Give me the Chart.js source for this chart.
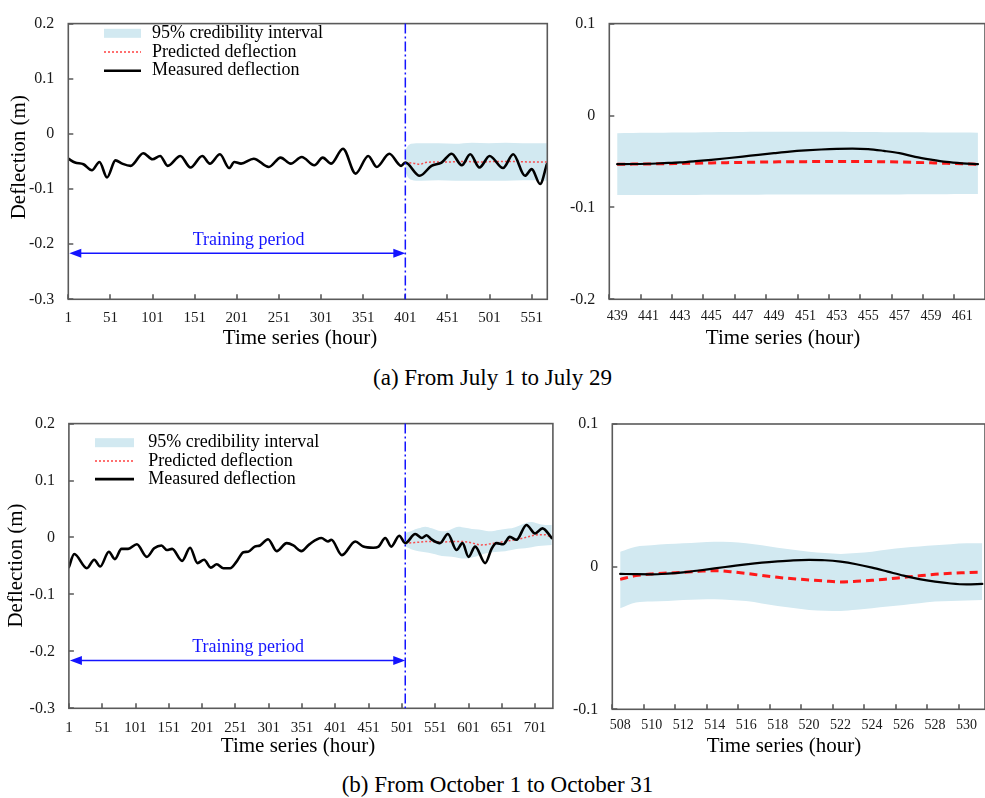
<!DOCTYPE html>
<html lang="en">
<head>
<meta charset="UTF-8">
<title>Deflection prediction</title>
<script src="https://cdn.jsdelivr.net/npm/chart.js"></script>
<style>
    body { margin: 0; background: #fff; width: 985px; height: 798px; position: relative; overflow: hidden;
           font-family: 'Liberation Serif', 'Times New Roman', serif; }
    canvas { position: absolute; }
    .caption { position: absolute; width: 985px; text-align: center; font-size: 23px; line-height: 26px; color: #000; white-space: nowrap; }
</style>
<script>
    // (a) July: whole record, measured deflection (hour, m)
    const julyHours = [1, 9, 19, 29, 38, 47, 57, 65, 75, 90, 101, 110, 119, 134, 146, 160, 169, 181, 192, 198,
        206, 221, 239, 253, 265, 278, 293, 303, 313, 327, 342, 357, 367, 382, 396, 401, 418, 432, 444, 456,
        468, 478, 489, 501, 517, 529, 543, 551, 561, 569];
    const julyMeasured = [-0.045, -0.052, -0.055, -0.066, -0.051, -0.079, -0.048, -0.054, -0.058, -0.035,
        -0.046, -0.040, -0.058, -0.040, -0.061, -0.040, -0.054, -0.037, -0.062, -0.051,
        -0.054, -0.045, -0.060, -0.043, -0.054, -0.042, -0.057, -0.043, -0.054, -0.027,
        -0.072, -0.040, -0.060, -0.036, -0.058, -0.052, -0.076, -0.058, -0.052, -0.036,
        -0.057, -0.037, -0.061, -0.040, -0.062, -0.037, -0.076, -0.064, -0.091, -0.055];
    const julyPredHours = [401, 410, 418, 425, 435, 450, 470, 490, 510, 530, 550, 569];
    const julyPredicted = [-0.052, -0.053, -0.055, -0.052, -0.051, -0.051, -0.050, -0.051, -0.050, -0.050, -0.051, -0.051];
    const julyBandHours = [401, 404, 408, 420, 440, 460, 480, 500, 520, 540, 560, 569];
    const julyUpper = [-0.030, -0.022, -0.018, -0.017, -0.017, -0.018, -0.016, -0.017, -0.016, -0.017, -0.017, -0.017];
    const julyLower = [-0.068, -0.078, -0.083, -0.085, -0.084, -0.085, -0.085, -0.085, -0.085, -0.084, -0.084, -0.085];

    // (a) July: close-up of hours 439-462
    const julyZoomHours = [439, 440, 441, 442, 443, 444, 445, 446, 447, 448, 449, 450,
        451, 452, 453, 454, 455, 456, 457, 458, 459, 460, 461, 462];
    const julyZoomMeasured = [-0.053, -0.0528, -0.0525, -0.0518, -0.051, -0.0497, -0.0482, -0.0465, -0.0447, -0.0428, -0.041, -0.0393,
        -0.038, -0.037, -0.0363, -0.036, -0.0365, -0.0385, -0.041, -0.045, -0.048, -0.0505, -0.052, -0.053];
    const julyZoomPredicted = [-0.053, -0.0529, -0.0527, -0.0525, -0.0522, -0.0519, -0.0516, -0.0513, -0.051, -0.0507, -0.0505, -0.0503,
        -0.0502, -0.0501, -0.050, -0.050, -0.0501, -0.0503, -0.0506, -0.051, -0.0515, -0.052, -0.0525, -0.053];
    const julyZoomUpper = [-0.0192, -0.019, -0.0189, -0.0188, -0.0186, -0.0184, -0.0182, -0.018, -0.0179, -0.0178, -0.0177, -0.0177,
        -0.0177, -0.0177, -0.0178, -0.0179, -0.018, -0.0181, -0.0182, -0.0183, -0.0184, -0.0185, -0.0186, -0.0187];
    const julyZoomLower = [-0.0865, -0.0866, -0.0866, -0.0866, -0.0865, -0.0864, -0.0863, -0.0862, -0.0862, -0.0861, -0.086, -0.086,
        -0.086, -0.086, -0.086, -0.086, -0.086, -0.086, -0.0859, -0.0858, -0.0857, -0.0856, -0.0855, -0.0855];

    // (b) October: whole record
    const octHours = [1, 9, 28, 39, 48, 61, 70, 80, 90, 103, 118, 129, 140, 148, 156, 171, 183, 194, 204, 214,
        223, 233, 243, 253, 263, 270, 280, 288, 300, 313, 328, 338, 350, 362, 380, 390, 395, 411, 431, 443,
        458, 466, 476, 485, 497, 506, 521, 531, 538, 545, 558, 570, 583, 592, 601, 611, 626, 636, 643, 653,
        663, 673, 688, 701, 712, 726];
    const octMeasured = [-0.052, -0.029, -0.054, -0.039, -0.051, -0.025, -0.038, -0.020, -0.020, -0.012,
        -0.034, -0.019, -0.014, -0.022, -0.020, -0.041, -0.018, -0.045, -0.039, -0.053,
        -0.047, -0.054, -0.054, -0.042, -0.026, -0.025, -0.016, -0.014, -0.003, -0.024,
        -0.010, -0.014, -0.024, -0.012, -0.001, -0.007, -0.004, -0.031, -0.007, -0.016,
        -0.018, -0.016, -0.001, -0.016, 0.003, -0.010, 0.006, -0.001, 0.004, -0.003,
        -0.010, 0.006, -0.022, -0.010, -0.034, -0.016, -0.045, -0.019, -0.010, -0.012,
        0.001, -0.004, 0.022, 0.007, 0.016, -0.001];
    const octPredHours = [506, 520, 540, 560, 580, 600, 620, 640, 660, 680, 700, 715, 726];
    const octPredicted = [-0.010, -0.009, -0.007, -0.008, -0.007, -0.008, -0.013, -0.010, -0.006, -0.002, 0.004, 0.005, 0.000];
    const octBandHours = [506, 516, 526, 536, 546, 556, 566, 576, 586, 596, 606, 616, 626, 636, 646, 656,
        666, 676, 686, 696, 706, 716, 726];
    const octUpper = [0.008, 0.012, 0.016, 0.019, 0.016, 0.012, 0.011, 0.015, 0.019, 0.017, 0.015, 0.014,
        0.012, 0.011, 0.013, 0.015, 0.016, 0.020, 0.025, 0.027, 0.024, 0.022, 0.022];
    const octLower = [-0.016, -0.021, -0.024, -0.026, -0.028, -0.031, -0.033, -0.034, -0.036, -0.037, -0.035, -0.032,
        -0.028, -0.026, -0.025, -0.024, -0.022, -0.020, -0.019, -0.017, -0.015, -0.014, -0.013];

    // (b) October: close-up of hours 508-531
    const octZoomHours = [508, 509, 510, 511, 512, 513, 514, 515, 516, 517, 518, 519,
        520, 521, 522, 523, 524, 525, 526, 527, 528, 529, 530, 531];
    const octZoomMeasured = [-0.0051, -0.0053, -0.0054, -0.0049, -0.004, -0.0027, -0.0012, 0.0002, 0.0016, 0.0028, 0.0037, 0.0044,
        0.0047, 0.0045, 0.0035, 0.0017, -0.0007, -0.0035, -0.0063, -0.0087, -0.0105, -0.0118, -0.0124, -0.0121];
    const octZoomPredicted = [-0.0089, -0.0063, -0.0051, -0.0045, -0.004, -0.0033, -0.0028, -0.0035, -0.0047, -0.0062, -0.0075, -0.0085,
        -0.0093, -0.0101, -0.0107, -0.0103, -0.0096, -0.0086, -0.0075, -0.0064, -0.0054, -0.0047, -0.0042, -0.0037];
    const octZoomUpper = [0.0105, 0.014, 0.015, 0.0158, 0.0164, 0.017, 0.0175, 0.0172, 0.0164, 0.015, 0.0133, 0.0118,
        0.0105, 0.0095, 0.0089, 0.0095, 0.0105, 0.012, 0.0133, 0.0142, 0.015, 0.0157, 0.0164, 0.0164];
    const octZoomLower = [-0.0292, -0.0252, -0.0245, -0.024, -0.0234, -0.0231, -0.0229, -0.0234, -0.0241, -0.0258, -0.0276, -0.029,
        -0.0304, -0.0309, -0.0311, -0.0303, -0.0292, -0.028, -0.0269, -0.0257, -0.0245, -0.024, -0.0238, -0.0234];

    // tick labels
    const julyXTicks = [1, 51, 101, 151, 201, 251, 301, 351, 401, 451, 501, 551];
    const octXTicks = [1, 51, 101, 151, 201, 251, 301, 351, 401, 451, 501, 551, 601, 651, 701];
    const julyZoomXTicks = [439, 441, 443, 445, 447, 449, 451, 453, 455, 457, 459, 461];
    const octZoomXTicks = [508, 510, 512, 514, 516, 518, 520, 522, 524, 526, 528, 530];
    const fullYTicks = [-0.3, -0.2, -0.1, 0, 0.1, 0.2];
    const julyZoomYTicks = [-0.2, -0.1, 0, 0.1];
    const octZoomYTicks = [-0.1, 0, 0.1];

    const BAND = '#d2e9f1';
    const SERIF = '"Liberation Serif", "Times New Roman", serif';

    function zip(xs, ys) {
        return xs.map((x, i) => ({ x: x, y: ys[i] }));
    }

    function line(ctx, x1, y1, x2, y2) {
        ctx.beginPath();
        ctx.moveTo(x1, y1);
        ctx.lineTo(x2, y2);
        ctx.stroke();
    }

    // frame, inward ticks, legend, training-period marker and axis titles
    const decor = {
        id: 'decor',
        afterDraw(chart, args, o) {
            const { ctx, chartArea: a, scales: { x, y } } = chart;
            ctx.save();
            ctx.strokeStyle = '#5a5a5a';
            ctx.lineWidth = 1.6;
            ctx.strokeRect(a.left, a.top, a.right - a.left, a.bottom - a.top);
            ctx.beginPath();
            x.ticks.forEach(t => {
                const px = Math.round(x.getPixelForValue(t.value + o.markShift));
                ctx.moveTo(px, a.bottom);
                ctx.lineTo(px, a.bottom - 5);
            });
            y.ticks.forEach(t => {
                const py = Math.round(y.getPixelForValue(t.value));
                ctx.moveTo(a.left, py);
                ctx.lineTo(a.left + 5, py);
            });
            ctx.stroke();

            if (o.split) {
                const sx = x.getPixelForValue(o.split);
                ctx.strokeStyle = '#1414ff';
                ctx.fillStyle = '#1414ff';
                ctx.lineWidth = 1.5;
                ctx.setLineDash([10, 3, 2, 3]);
                line(ctx, sx, a.top, sx, a.bottom);
                ctx.setLineDash([]);
                const ay = y.getPixelForValue(o.arrowY);
                const ax = x.getPixelForValue(x.min) + 1;
                line(ctx, ax + 6, ay, sx - 6, ay);
                ctx.beginPath();
                ctx.moveTo(ax, ay); ctx.lineTo(ax + 12, ay - 4.5); ctx.lineTo(ax + 12, ay + 4.5);
                ctx.closePath();
                ctx.moveTo(sx, ay); ctx.lineTo(sx - 12, ay - 4.5); ctx.lineTo(sx - 12, ay + 4.5);
                ctx.closePath();
                ctx.fill();
                ctx.font = '18px ' + SERIF;
                ctx.textAlign = 'center';
                ctx.textBaseline = 'middle';
                ctx.fillText('Training period', x.getPixelForValue(o.labelX), y.getPixelForValue(o.labelY));
            }

            if (o.legend) {
                const L = o.legend;
                ctx.font = '18px ' + SERIF;
                ctx.textAlign = 'left';
                ctx.textBaseline = 'middle';
                ctx.fillStyle = BAND;
                ctx.fillRect(L.x, L.y - 4.5, L.w, 9);
                ctx.strokeStyle = '#ff4040';
                ctx.lineWidth = 1.5;
                ctx.setLineDash([2, 2]);
                line(ctx, L.x, L.y + L.gap, L.x + L.w, L.y + L.gap);
                ctx.setLineDash([]);
                ctx.strokeStyle = '#000';
                ctx.lineWidth = 2.6;
                line(ctx, L.x, L.y + 2 * L.gap, L.x + L.w, L.y + 2 * L.gap);
                ctx.fillStyle = '#000';
                ['95% credibility interval', 'Predicted deflection', 'Measured deflection'].forEach((s, i) => {
                    ctx.fillText(s, L.textX, L.y + i * L.gap);
                });
            }

            ctx.fillStyle = '#000';
            ctx.font = '21px ' + SERIF;
            ctx.textAlign = 'center';
            ctx.textBaseline = 'middle';
            ctx.fillText('Time series (hour)', o.xTitle[0], o.xTitle[1]);
            if (o.yTitle) {
                ctx.translate(o.yTitle[0], o.yTitle[1]);
                ctx.rotate(-Math.PI / 2);
                ctx.fillText('Deflection (m)', 0, 0);
            }
            ctx.restore();
        }
    };

    function makeChart(id, c) {
        return new Chart(document.getElementById(id), {
            type: 'line',
            data: {
                datasets: [{
                    label: 'Measured deflection',
                    data: zip(c.hours, c.measured),
                    borderColor: '#000',
                    borderWidth: c.measWidth,
                    cubicInterpolationMode: 'monotone',
                    borderJoinStyle: 'round',
                    borderCapStyle: 'round'
                }, {
                    label: 'Predicted deflection',
                    data: zip(c.predHours, c.predicted),
                    borderColor: c.predColor,
                    borderWidth: c.predWidth,
                    borderDash: c.predDash,
                    cubicInterpolationMode: 'monotone'
                }, {
                    label: '95% credibility interval',
                    data: zip(c.bandHours, c.upper),
                    borderColor: 'transparent',
                    borderWidth: 0,
                    cubicInterpolationMode: 'monotone'
                }, {
                    label: 'lower bound',
                    data: zip(c.bandHours, c.lower),
                    borderColor: 'transparent',
                    borderWidth: 0,
                    backgroundColor: BAND,
                    fill: '-1',
                    cubicInterpolationMode: 'monotone'
                }]
            },
            options: {
                responsive: false,
                animation: false,
                events: [],
                elements: { point: { radius: 0 } },
                layout: { padding: c.padding },
                scales: {
                    x: {
                        type: 'linear',
                        min: c.xMin,
                        max: c.xMax,
                        grid: { display: false, drawTicks: false },
                        border: { display: false },
                        afterBuildTicks: s => { s.ticks = c.xTicks.map(v => ({ value: v })); },
                        afterFit: s => { s.height = c.xHeight; },
                        ticks: {
                            callback: v => String(v),
                            font: { family: SERIF, size: c.xFont },
                            color: '#1a1a1a',
                            padding: c.xPad,
                            maxRotation: 0,
                            autoSkip: false
                        }
                    },
                    y: {
                        min: c.yMin,
                        max: c.yMax,
                        grid: { display: false, drawTicks: false },
                        border: { display: false },
                        afterBuildTicks: s => { s.ticks = c.yTicks.map(v => ({ value: v })); },
                        afterFit: s => { s.width = c.yWidth; },
                        ticks: {
                            callback: v => String(v),
                            font: { family: SERIF, size: 16 },
                            color: '#1a1a1a',
                            padding: 14
                        }
                    }
                },
                plugins: {
                    legend: { display: false },
                    tooltip: { enabled: false },
                    decor: c.decor
                }
            },
            plugins: [decor]
        });
    }

    document.addEventListener('DOMContentLoaded', function () {
        makeChart('julyFull', {
            hours: julyHours, measured: julyMeasured,
            predHours: julyPredHours, predicted: julyPredicted,
            bandHours: julyBandHours, upper: julyUpper, lower: julyLower,
            measWidth: 2.6, predColor: 'rgba(255, 50, 50, 0.85)', predWidth: 1.5, predDash: [2, 2],
            xMin: 1, xMax: 569.5, xTicks: julyXTicks, xFont: 15, xPad: 10, xHeight: 60.7,
            yMin: -0.3, yMax: 0.2, yTicks: fullYTicks, yWidth: 68.3,
            padding: { top: 15, right: 12.7, left: 0, bottom: 0 },
            decor: {
                markShift: 0, split: 401, arrowY: -0.2163, labelX: 215, labelY: -0.193,
                legend: { x: 104, y: 33.3, w: 37, gap: 18.7, textX: 152 },
                xTitle: [300, 338.3], yTitle: [19.6, 157.2]
            }
        });
        makeChart('julyZoom', {
            hours: julyZoomHours, measured: julyZoomMeasured,
            predHours: julyZoomHours, predicted: julyZoomPredicted,
            bandHours: julyZoomHours, upper: julyZoomUpper, lower: julyZoomLower,
            measWidth: 2.2, predColor: '#ff1a1a', predWidth: 3, predDash: [8, 5],
            xMin: 438.5, xMax: 462.45, xTicks: julyZoomXTicks, xFont: 14, xPad: 9, xHeight: 60.7,
            yMin: -0.2, yMax: 0.1, yTicks: julyZoomYTicks, yWidth: 49.3,
            padding: { top: 14, right: 0, left: 0, bottom: 0 },
            decor: { markShift: -0.5, xTitle: [223, 338.3] }
        });
        makeChart('octFull', {
            hours: octHours, measured: octMeasured,
            predHours: octPredHours, predicted: octPredicted,
            bandHours: octBandHours, upper: octUpper, lower: octLower,
            measWidth: 2.6, predColor: 'rgba(255, 50, 50, 0.85)', predWidth: 1.5, predDash: [2, 2],
            xMin: 1, xMax: 727.7, xTicks: octXTicks, xFont: 15, xPad: 11, xHeight: 51.7,
            yMin: -0.3, yMax: 0.2, yTicks: fullYTicks, yWidth: 68.9,
            padding: { top: 22.7, right: 7.1, left: 0, bottom: 0 },
            decor: {
                markShift: 0, split: 506, arrowY: -0.216, labelX: 270, labelY: -0.1926,
                legend: { x: 95, y: 42.7, w: 39, gap: 18.2, textX: 148.2 },
                xTitle: [298, 346.7], yTitle: [16, 165.5]
            }
        });
        makeChart('octZoom', {
            hours: octZoomHours, measured: octZoomMeasured,
            predHours: octZoomHours, predicted: octZoomPredicted,
            bandHours: octZoomHours, upper: octZoomUpper, lower: octZoomLower,
            measWidth: 2.2, predColor: '#ff1a1a', predWidth: 3, predDash: [8, 5],
            xMin: 507.5, xMax: 531.17, xTicks: octZoomXTicks, xFont: 14, xPad: 7.5, xHeight: 50.7,
            yMin: -0.1, yMax: 0.1, yTicks: octZoomYTicks, yWidth: 52.3,
            padding: { top: 24, right: 0, left: 0, bottom: 0 },
            decor: { markShift: -0.5, xTitle: [224, 346.7] }
        });
    });
</script>
</head>
<body>
    <canvas id="julyFull" width="560" height="360" style="left:0;top:0"></canvas>
    <canvas id="julyZoom" width="425" height="360" style="left:560px;top:0"></canvas>
    <canvas id="octFull" width="560" height="360" style="left:0;top:400px"></canvas>
    <canvas id="octZoom" width="425" height="360" style="left:560px;top:400px"></canvas>
    <div class="caption" style="left:0;top:365px">(a) From July 1 to July 29</div>
    <div class="caption" style="left:5px;top:772px">(b) From October 1 to October 31</div>
</body>
</html>
